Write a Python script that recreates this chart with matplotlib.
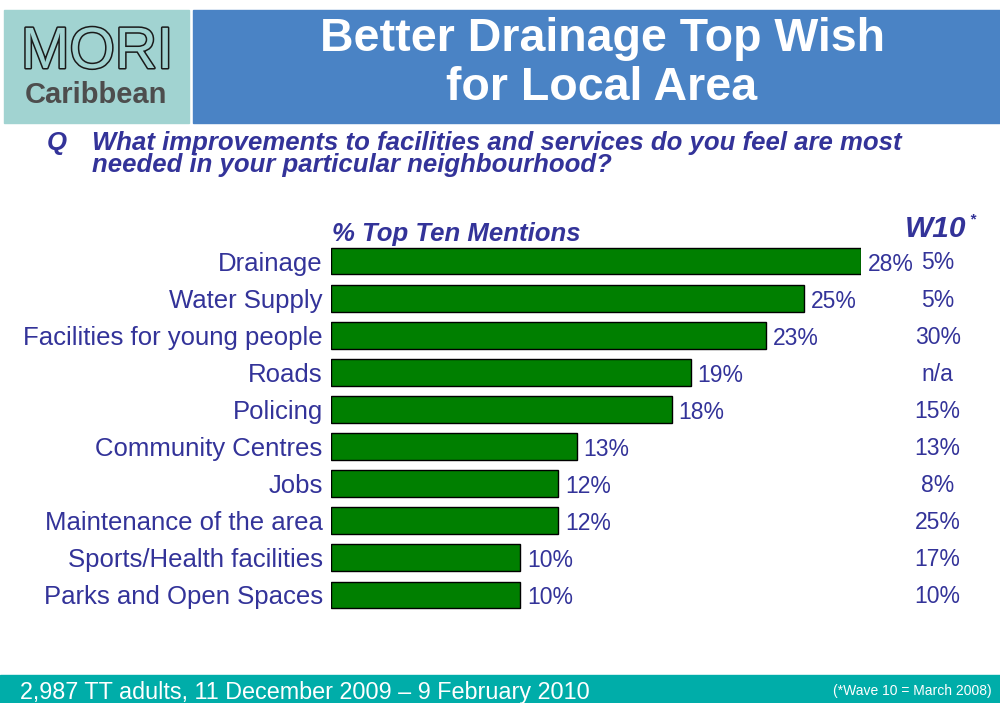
import matplotlib.pyplot as plt
import matplotlib.patheffects as pe
from matplotlib.patches import Rectangle

plt.rcParams['font.family'] = ['Liberation Sans', 'DejaVu Sans']

# dati
categories = ['Drainage', 'Water Supply', 'Facilities for young people', 'Roads',
              'Policing', 'Community Centres', 'Jobs', 'Maintenance of the area',
              'Sports/Health facilities', 'Parks and Open Spaces']
values = [28, 25, 23, 19, 18, 13, 12, 12, 10, 10]
w10 = ['5%', '5%', '30%', 'n/a', '15%', '13%', '8%', '25%', '17%', '10%']

W, H = 1000, 703
navy = '#333399'
fig = plt.figure(figsize=(W / 100, H / 100), dpi=100)
fig.patch.set_facecolor('white')


def box(x, y, w, h, color):
    # rettangolo in pixel (y dall'alto)
    fig.patches.append(Rectangle((x / W, 1 - (y + h) / H), w / W, h / H,
                                 transform=fig.transFigure, color=color, zorder=0))


def ftext(x, y, s, **kw):
    fig.text(x / W, 1 - y / H, s, **kw)


# intestazione
box(4, 10, 185, 113, '#A1D3D1')
box(193, 10, 807, 113, '#4A83C5')
ftext(97, 47, 'MORI', fontsize=42, color='#A1D3D1', ha='center', va='center_baseline',
      path_effects=[pe.withStroke(linewidth=2.2, foreground='#1a1a1a')])
ftext(96, 92, 'Caribbean', fontsize=21, fontweight='bold', color='#4D4D4D',
      ha='center', va='center_baseline')
ftext(602, 39, 'Better Drainage Top Wish', fontsize=33.5, fontweight='bold',
      color='white', ha='center', va='center')
ftext(602, 88, 'for Local Area', fontsize=33.5, fontweight='bold',
      color='white', ha='center', va='center')

# domanda
qkw = dict(fontsize=18.5, fontweight='bold', style='italic', color=navy, va='center')
ftext(47, 143, 'Q', **qkw)
ftext(92, 143, 'What improvements to facilities and services do you feel are most', **qkw)
ftext(92, 165, 'needed in your particular neighbourhood?', **qkw)

# grafico a barre
ax = fig.add_axes([331 / W, 1 - 613.5 / H, 530 / W, 371 / H])
ypos = list(range(len(categories)))
ax.barh(ypos, values, height=0.72, color='#007F00', edgecolor='black', linewidth=1)
ax.set_xlim(0, 28)
ax.set_ylim(len(categories) - 0.5, -0.5)
ax.set_yticks(ypos)
ax.set_yticklabels(categories, fontsize=18.5, color=navy)
ax.tick_params(axis='y', length=0, pad=6)
ax.set_xticks([])
for s in ax.spines.values():
    s.set_visible(False)
ax.patch.set_alpha(0)

for i, v in enumerate(values):
    ax.text(v + 0.35, i + 0.08, '%d%%' % v, fontsize=16.5, color=navy,
            va='center', ha='left', clip_on=False)
for i, t in enumerate(w10):
    ax.text(32.05, i + 0.05, t, fontsize=16.5, color=navy, va='center', ha='center',
            clip_on=False)

ftext(332, 234, '% Top Ten Mentions', fontsize=18.5, fontweight='bold', style='italic',
      color=navy, va='center')
ftext(905, 229, 'W10', fontsize=21.5, fontweight='bold', style='italic', color=navy,
      va='center')
ftext(969, 219, '*', fontsize=11, fontweight='bold', style='italic', color=navy,
      va='center')

# piè di pagina
box(0, 675, 1000, 28, '#00ADA9')
ftext(20, 692, '2,987 TT adults, 11 December 2009 \u2013 9 February 2010', fontsize=16.8,
      color='white', va='center')
ftext(833, 691, '(*Wave 10 = March 2008)', fontsize=10, color='white', va='center')

fig.savefig('out.png', dpi=100)
